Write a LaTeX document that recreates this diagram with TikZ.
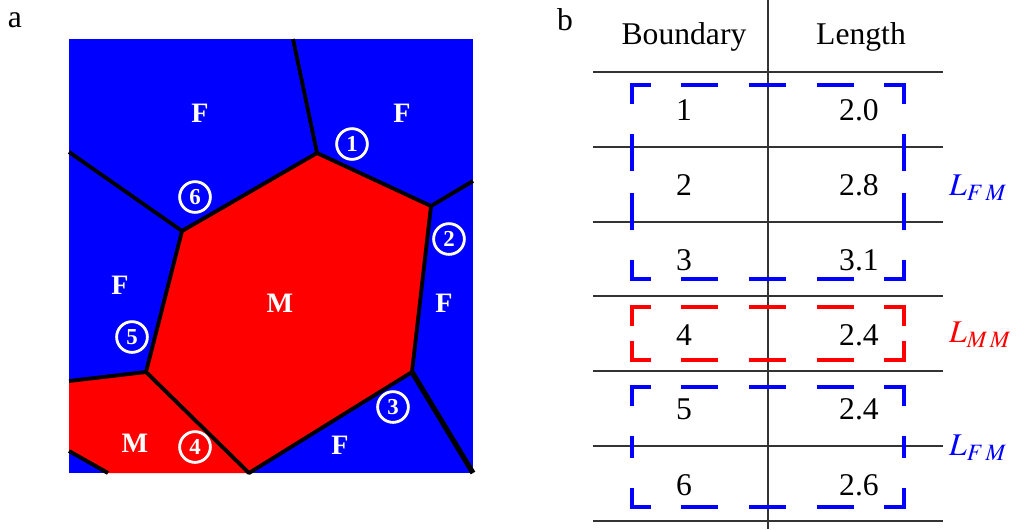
\documentclass[tikz,border=0pt]{standalone}
\usepackage{mathptmx}
\usepackage[no-math]{fontspec}
\setmainfont{Liberation Serif}

% one side of a dashed frame, dashed from the corner to the middle
\newcommand{\dashframe}[5]{%
  \draw[dashside,#5] (#1,#2) -- (#3,#2);
  \draw[dashside,#5] (#1,#4) -- (#3,#4);
  \draw[dashside,#5] (#1,#2) -- (#1,{(#2+#4)/2});
  \draw[dashside,#5] (#1,#4) -- (#1,{(#2+#4)/2});
  \draw[dashside,#5] (#3,#2) -- (#3,{(#2+#4)/2});
  \draw[dashside,#5] (#3,#4) -- (#3,{(#2+#4)/2});
}

\begin{document}
\begin{tikzpicture}[x=0.02cm, y=-0.02cm,
    grain/.style={draw=black, line width=2.2pt, line join=round},
    phase/.style={text=white, font=\fontsize{16}{18}\selectfont\bfseries},
    bnum/.style={circle, draw=white, line width=1.6pt, text=white, inner sep=0pt,
      minimum size=17.5pt, font=\fontsize{13}{14}\selectfont\bfseries},
    rule/.style={draw=black!80, line width=0.9pt},
    cell/.style={font=\fontsize{18}{20}\selectfont},
    dashside/.style={line width=2pt, line cap=rect,
      dash pattern=on 19.28pt off 19.28pt, dash phase=9.64pt}]
        \useasboundingbox (0,0) rectangle (1024,529);

        % panel a: grains
        \coordinate (TL) at (69,39);   \coordinate (TR) at (473,39);
        \coordinate (BR) at (473,473); \coordinate (BL) at (69,473);
        \coordinate (A) at (317,153);  \coordinate (B) at (431,206);
        \coordinate (C) at (412,372);  \coordinate (D) at (249,473);
        \coordinate (E) at (146,372);  \coordinate (G) at (182,231);
        \coordinate (T1) at (293,39);  \coordinate (R1) at (473,181);
        \coordinate (L1) at (69,381);  \coordinate (L2) at (69,152);
        \coordinate (L3) at (69,451);  \coordinate (B1) at (108,473);

        \fill[blue] (TL) rectangle (BR);
        \fill[red] (A) -- (B) -- (C) -- (D) -- (E) -- (G) -- cycle;
        \fill[red] (L1) -- (E) -- (D) -- (B1) -- (L3) -- cycle;

        \draw[grain] (A) -- (B) -- (C) -- (D) -- (E) -- (G) -- cycle;
        \draw[grain] (T1) -- (A);
        \draw[grain] (B) -- (R1);
        \draw[grain, line width=3pt] (C) -- (BR);
        \draw[grain] (E) -- (L1);
        \draw[grain] (G) -- (L2);
        \draw[grain] (L3) -- (B1);

        \node[phase] (f1) at (200,113) {F};
        \node[phase] (f2) at (402,113) {F};
        \node[phase] (f3) at (120,285) {F};
        \node[phase] (f4) at (444,303) {F};
        \node[phase] (f5) at (340,445) {F};
        \node[phase] (m1) at (280,303) {M};
        \node[phase] (m2) at (135,443) {M};

        \node[bnum] (n1) at (352,144) {1};
        \node[bnum] (n2) at (449,239) {2};
        \node[bnum] (n3) at (393,407) {3};
        \node[bnum] (n4) at (195,447) {4};
        \node[bnum] (n5) at (132,337) {5};
        \node[bnum] (n6) at (195,197) {6};

        \node[cell] (pa) at (15,20) {a};
        \node[cell] (pb) at (565,20) {b};

        % panel b: table
        \draw[rule] (768,0) -- (768,529);
        \foreach \y in {72,147,222,296,371,446,521}
          \draw[rule] (593,\y) -- (943,\y);

        \node[cell] (hb) at (684,37) {Boundary};
        \node[cell] (hl) at (861,37) {Length};
        \foreach \k/\y/\v in {1/110/2.0, 2/185/2.8, 3/260/3.1, 4/335/2.4, 5/409/2.4, 6/485/2.6}{
          \node[cell] (b\k) at (684,\y) {\k};
          \node[cell] (v\k) at (859,\y) {\v};
        }

        \dashframe{632}{85}{904}{279}{blue}
        \dashframe{632}{307}{904}{360}{red}
        \dashframe{632}{387}{904}{507}{blue}

        \node[cell, blue, anchor=west] (lfm1) at (943,188) {$L_{F\,M}$};
        \node[cell, red, anchor=west] (lmm) at (943,335) {$L_{M\,M}$};
        \node[cell, blue, anchor=west] (lfm2) at (943,448) {$L_{F\,M}$};
    \end{tikzpicture}
\end{document}
